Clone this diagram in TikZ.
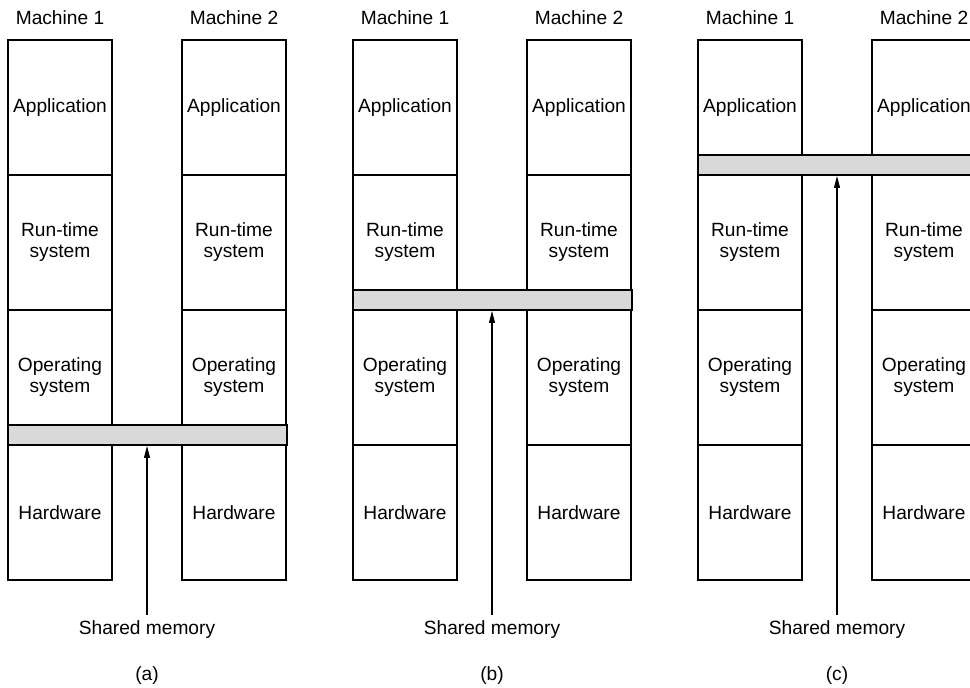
\documentclass[tikz,border=0pt]{standalone}
\usepackage{fontspec}
\setsansfont{Liberation Sans}
\usetikzlibrary{arrows.meta,calc}

\begin{document}
\begin{tikzpicture}[
  font=\sffamily\fontsize{10.9}{12}\selectfont,
  layer/.style={draw=black,line width=1.1pt,minimum width=2.08cm,minimum height=2.7cm,inner sep=0pt,align=center},
  shared/.style={draw=black,fill=black!15,line width=1.1pt,minimum width=5.58cm,minimum height=.4cm,inner sep=0pt},
  pointer/.style={-{Triangle[length=2.4mm,width=1.2mm]},line width=.6pt}
]
\useasboundingbox (0,0) rectangle (19.4,13.74);

% (a) memory shared at the hardware level
\node (ma1) at (1.2,13.38) {Machine 1};
\node (ma2) at (4.68,13.38) {Machine 2};
\node[layer] (appa1) at (1.2,11.59) {Application};
\node[layer] (rtsa1) at (1.2,8.89) {Run-time\\system};
\node[layer] (osa1) at (1.2,6.19) {Operating\\system};
\node[layer] (hwa1) at (1.2,3.49) {Hardware};
\node[layer] (appa2) at (4.68,11.59) {Application};
\node[layer] (rtsa2) at (4.68,8.89) {Run-time\\system};
\node[layer] (osa2) at (4.68,6.19) {Operating\\system};
\node[layer] (hwa2) at (4.68,3.49) {Hardware};
\node[shared] (shma) at (2.95,5.04) {};
\node (lbla) at (2.94,1.14) {Shared memory};
\draw[pointer] (lbla.north) -- (lbla.north |- shma.south);
\node (capa) at (2.94,.22) {(a)};

% (b) memory shared at the operating system level
\node (mb1) at (8.1,13.38) {Machine 1};
\node (mb2) at (11.58,13.38) {Machine 2};
\node[layer] (appb1) at (8.1,11.59) {Application};
\node[layer] (rtsb1) at (8.1,8.89) {Run-time\\system};
\node[layer] (osb1) at (8.1,6.19) {Operating\\system};
\node[layer] (hwb1) at (8.1,3.49) {Hardware};
\node[layer] (appb2) at (11.58,11.59) {Application};
\node[layer] (rtsb2) at (11.58,8.89) {Run-time\\system};
\node[layer] (osb2) at (11.58,6.19) {Operating\\system};
\node[layer] (hwb2) at (11.58,3.49) {Hardware};
\node[shared] (shmb) at (9.85,7.74) {};
\node (lblb) at (9.84,1.14) {Shared memory};
\draw[pointer] (lblb.north) -- (lblb.north |- shmb.south);
\node (capb) at (9.84,.22) {(b)};

% (c) memory shared at the run-time system level
\node (mc1) at (15.0,13.38) {Machine 1};
\node (mc2) at (18.48,13.38) {Machine 2};
\node[layer] (appc1) at (15.0,11.59) {Application};
\node[layer] (rtsc1) at (15.0,8.89) {Run-time\\system};
\node[layer] (osc1) at (15.0,6.19) {Operating\\system};
\node[layer] (hwc1) at (15.0,3.49) {Hardware};
\node[layer] (appc2) at (18.48,11.59) {Application};
\node[layer] (rtsc2) at (18.48,8.89) {Run-time\\system};
\node[layer] (osc2) at (18.48,6.19) {Operating\\system};
\node[layer] (hwc2) at (18.48,3.49) {Hardware};
\node[shared] (shmc) at (16.75,10.44) {};
\node (lblc) at (16.74,1.14) {Shared memory};
\draw[pointer] (lblc.north) -- (lblc.north |- shmc.south);
\node (capc) at (16.74,.22) {(c)};
\end{tikzpicture}
\end{document}
